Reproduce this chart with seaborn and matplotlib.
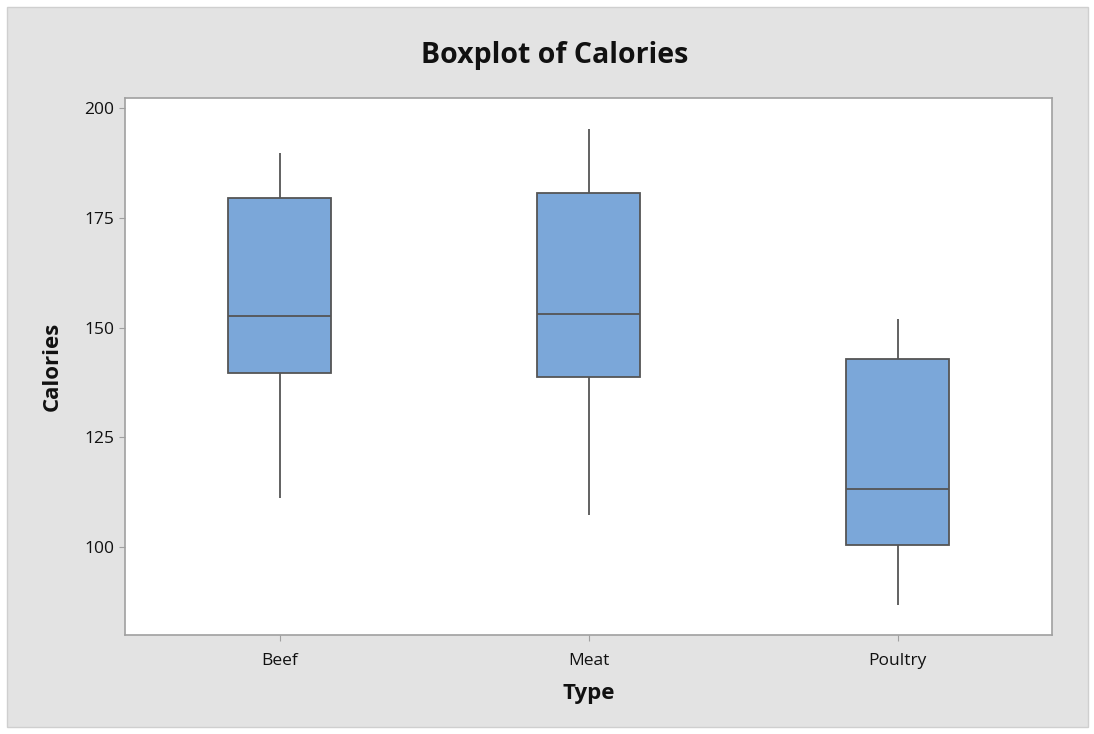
import pandas as pd
import matplotlib.pyplot as plt
import seaborn as sns
from matplotlib.patches import Rectangle

# Five-number summaries (min, Q1, median, Q3, max)
TYPES = ['Beef', 'Meat', 'Poultry']
beef = [111.3, 139.6, 152.6, 179.6, 189.8]
meat = [107.3, 138.7, 153.2, 180.6, 195.2]
poultry = [86.8, 100.4, 113.2, 142.8, 152.0]
Y_TICKS = [100, 125, 150, 175, 200]

df = pd.DataFrame({
    'Type': [t for t, vals in zip(TYPES, [beef, meat, poultry]) for _ in vals],
    'Calories': beef + meat + poultry,
})

sns.set_style("white")
plt.rcParams['font.family'] = ['Open Sans', 'DejaVu Sans']
plt.rcParams['text.color'] = '#111111'
plt.rcParams['axes.labelcolor'] = '#111111'

fig = plt.figure(figsize=(10.94, 7.34), dpi=100)
fig.patch.set_facecolor('white')
fig.patches.append(Rectangle((7 / 1094, 7 / 734), 1081 / 1094, 720 / 734,
                             transform=fig.transFigure, facecolor='#e3e3e3',
                             edgecolor='#cfcfcf', linewidth=1, zorder=-5))

ax = fig.add_axes([125 / 1094, 99 / 734, 927 / 1094, 537 / 734])
ax.set_zorder(2)
ax.set_facecolor('white')

edge = '#555555'
sns.boxplot(data=df, x='Type', y='Calories', order=TYPES, ax=ax,
            color='#7ba7d9', saturation=1, width=0.333, whis=10,
            linecolor=edge, linewidth=1.3, showcaps=False,
            medianprops={'color': edge, 'linewidth': 1.3})

ax.set_xlim(-0.5, 2.5)
ax.set_ylim(80, 202.3)
ax.set_yticks(Y_TICKS)
ax.tick_params(axis='both', direction='out', length=4, color='#a0a0a0',
               labelsize=12.5, labelcolor='#111111', left=True, bottom=True)
ax.tick_params(axis='x', pad=9)
for s in ax.spines.values():
    s.set_color('#a0a0a0')
    s.set_linewidth(1.2)

ax.set_xlabel('Type', fontsize=16, fontweight='bold', labelpad=10)
ax.set_ylabel('Calories', fontsize=16, fontweight='bold', labelpad=16)
fig.text(555 / 1094, 1 - 56 / 734, 'Boxplot of Calories', ha='center', va='center',
         fontsize=20.5, fontweight='bold', color='#111111')

plt.savefig('out.png', dpi=100)
plt.close()
